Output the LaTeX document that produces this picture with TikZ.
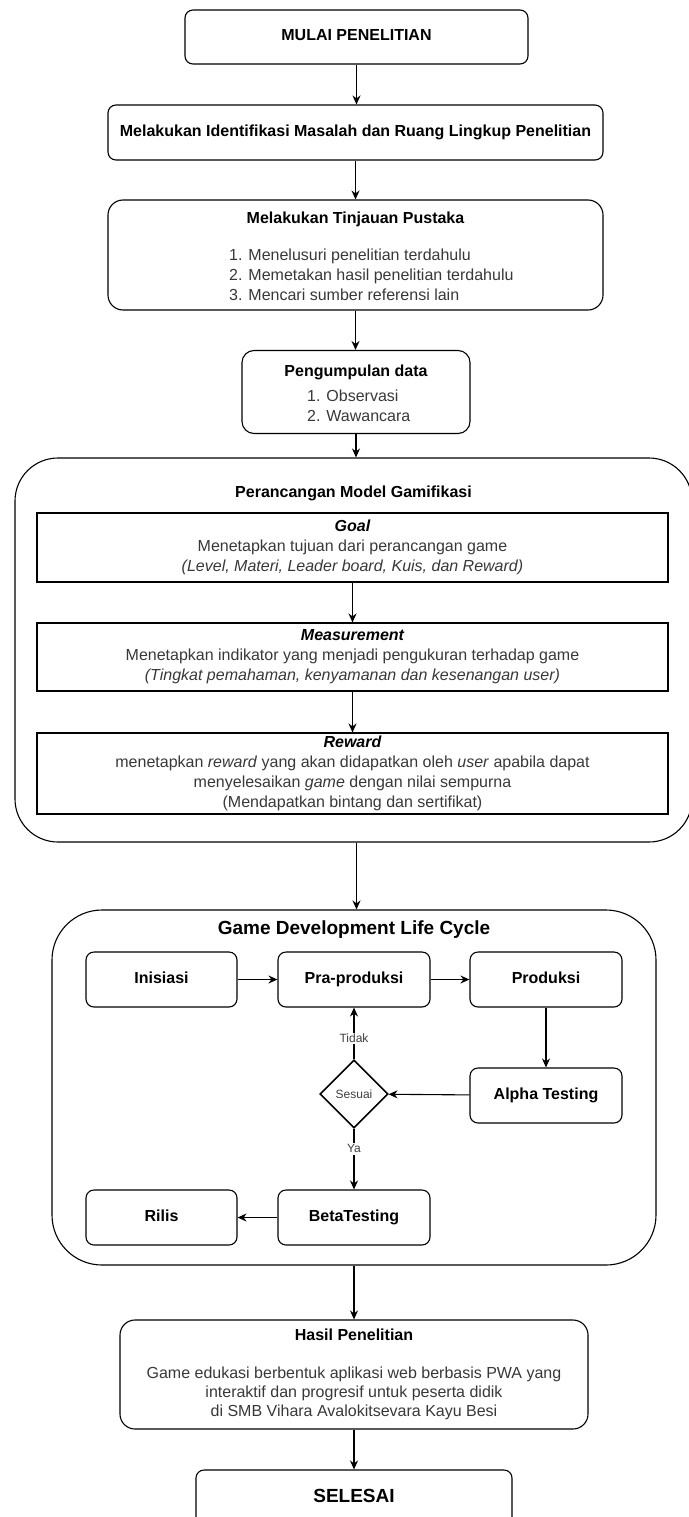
\documentclass[tikz,border=0pt]{standalone}
\usepackage{fontspec}
\setmainfont{Liberation Sans}
\usetikzlibrary{arrows.meta,shapes.geometric}
\newcommand\myhead{\fontsize{16}{20}\selectfont\bfseries}
\newcommand\mybody{\fontsize{16}{20}\selectfont\color{black!78}}
\newcommand\mybig{\fontsize{19}{22}\selectfont\bfseries}
\newcommand\mysmall{\fontsize{12}{14}\selectfont\color{black!75}}
\begin{document}
\begin{tikzpicture}[x=1pt,y=-1pt,
  box/.style={draw,line width=1.1pt,rounded corners=8pt,inner sep=0pt},
  one/.style={text height=11.5pt,text depth=3.5pt},
  sq/.style={draw,line width=1.1pt,inner sep=0pt},
  arr/.style={-{Stealth[length=9pt,width=8pt]},line width=1.1pt},
  lbl/.style={fill=white,inner sep=1.5pt,font=\mysmall}]
\useasboundingbox (0,0) rectangle (688,1517);

% top chain
\node[box,one,minimum width=343pt,minimum height=54pt,font=\myhead] (mulai) at (356.5,37) {MULAI PENELITIAN};
\node[box,one,minimum width=495pt,minimum height=55pt,font=\myhead] (ident) at (355.5,132.5) {Melakukan Identifikasi Masalah dan Ruang Lingkup Penelitian};
\node[box,rounded corners=15pt,minimum width=495pt,minimum height=110pt] (tinjau) at (355.5,255) {};
\node[font=\myhead,inner sep=0pt] (tinjaut) at (355.5,219) {Melakukan Tinjauan Pustaka};
\node[font=\mybody,align=left,anchor=west,inner sep=0pt] (tinjaul) at (229,275) {1. Menelusuri penelitian terdahulu\\2. Memetakan hasil penelitian terdahulu\\3. Mencari sumber referensi lain};
\node[box,rounded corners=12pt,minimum width=228pt,minimum height=83pt] (kumpul) at (356,392) {};
\node[font=\myhead,inner sep=0pt] (kumpult) at (356,372) {Pengumpulan data};
\node[font=\mybody,align=left,anchor=west,inner sep=0pt] (kumpull) at (307,406) {1. Observasi\\2. Wawancara};

% gamifikasi
\node[box,rounded corners=43pt,minimum width=677pt,minimum height=384pt] (gamif) at (353.5,650) {};
\node[font=\myhead,inner sep=0pt] (gamift) at (353.5,493) {Perancangan Model Gamifikasi};
\node[sq,minimum width=631pt,minimum height=69pt,align=center,font=\mybody] (goal) at (352.5,547.5)
  {{\color{black}\bfseries\itshape Goal}\\Menetapkan tujuan dari perancangan game\\\textit{(Level, Materi, Leader board, Kuis, dan Reward)}};
\node[sq,minimum width=631pt,minimum height=68pt,align=center,font=\mybody] (meas) at (352.5,657)
  {{\color{black}\bfseries\itshape Measurement}\\Menetapkan indikator yang menjadi pengukuran terhadap game\\\textit{(Tingkat pemahaman, kenyamanan dan kesenangan user)}};
\node[sq,minimum width=631pt,minimum height=81pt,align=center,font=\mybody] (reward) at (352.5,773.5)
  {{\color{black}\bfseries\itshape Reward}\\menetapkan \textit{reward} yang akan didapatkan oleh \textit{user} apabila dapat\\menyelesaikan \textit{game} dengan nilai sempurna\\(Mendapatkan bintang dan sertifikat)};

% GDLC
\node[box,rounded corners=50pt,minimum width=604pt,minimum height=355pt] (gdlc) at (354,1087.5) {};
\node[font=\mybig,inner sep=0pt] (gdlct) at (354,930) {Game Development Life Cycle};
\node[box,one,minimum width=151pt,minimum height=55pt,font=\myhead] (inis) at (161.5,979.5) {Inisiasi};
\node[box,one,minimum width=152pt,minimum height=55pt,font=\myhead] (pra) at (354,979.5) {Pra-produksi};
\node[box,one,minimum width=152pt,minimum height=55pt,font=\myhead] (prod) at (546,979.5) {Produksi};
\node[box,one,minimum width=152pt,minimum height=55pt,font=\myhead] (alpha) at (546,1095.5) {Alpha Testing};
\node[draw,diamond,line width=1.6pt,minimum width=68pt,minimum height=68pt,inner sep=0pt,font=\mysmall] (sesuai) at (354,1094) {Sesuai};
\node[box,one,minimum width=152pt,minimum height=55pt,font=\myhead] (beta) at (354,1217.5) {BetaTesting};
\node[box,one,minimum width=151pt,minimum height=55pt,font=\myhead] (rilis) at (161.5,1217.5) {Rilis};

% bottom
\node[box,rounded corners=15pt,minimum width=468pt,minimum height=109pt,align=center,font=\fontsize{16}{19}\selectfont\color{black!78}] (hasil) at (354,1374.5)
  {{\color{black}\bfseries Hasil Penelitian}\\[19pt]Game edukasi berbentuk aplikasi web berbasis PWA yang\\interaktif dan progresif untuk peserta didik\\di SMB Vihara Avalokitsevara Kayu Besi};
\node[box,minimum width=316pt,minimum height=56pt,text height=13.5pt,text depth=4pt,font=\mybig] (selesai) at (354,1498) {SELESAI};

% connectors
\draw[arr] (mulai.south) -- (mulai.south |- ident.north);
\draw[arr] (ident.south) -- (ident.south |- tinjau.north);
\draw[arr] (tinjau.south) -- (tinjau.south |- kumpul.north);
\draw[arr] (kumpul.south) -- (kumpul.south |- gamif.north);
\draw[arr] (goal.south) -- (meas.north);
\draw[arr] (meas.south) -- (reward.north);
\draw[arr] ([xshift=3pt]gamif.south) -- ([xshift=3pt]gamif.south |- gdlc.north);
\draw[arr] (inis) -- (pra);
\draw[arr] (pra) -- (prod);
\draw[arr] (prod) -- (alpha);
\draw[arr] (alpha) -- (sesuai);
\draw[arr] (sesuai) -- node[lbl,pos=0.4] {Tidak} (pra);
\draw[arr] (sesuai) -- node[lbl,pos=0.33] {Ya} (beta);
\draw[arr] (beta) -- (rilis);
\draw[arr] (gdlc.south) -- (hasil.north);
\draw[arr] (hasil.south) -- (selesai.north);
\end{tikzpicture}
\end{document}
